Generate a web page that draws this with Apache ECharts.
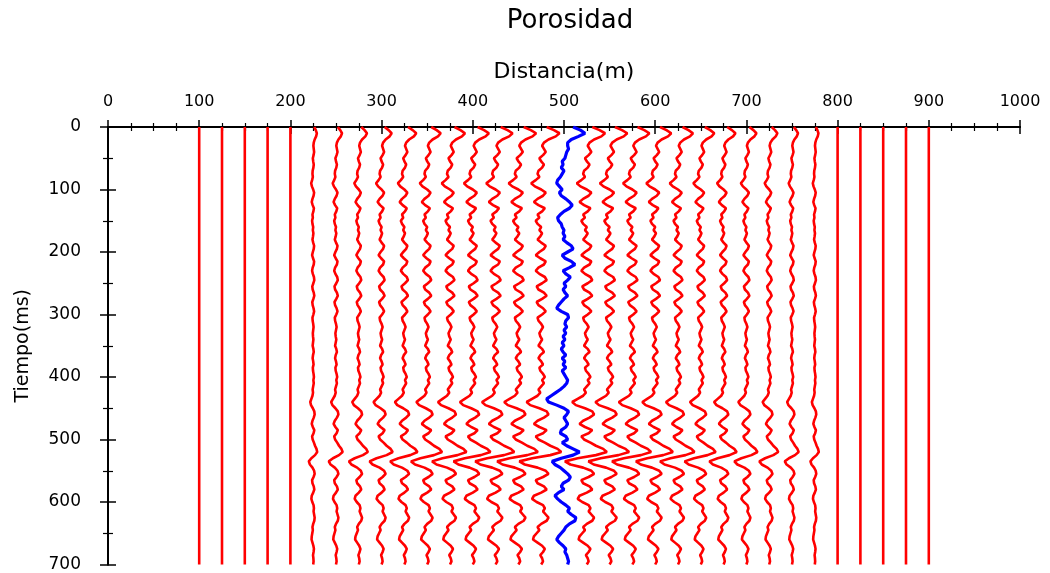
<!DOCTYPE html>
<html>
<head>
<meta charset="utf-8">
<script src="https://cdn.jsdelivr.net/npm/echarts@6/dist/echarts.min.js"></script>
<style>html,body{margin:0;padding:0;background:#fff}#c{width:1050px;height:573px}</style>
</head>
<body>
<div id="c"></div>
<script>
// Sample times (ms), every 5 ms from 0 to 700
var times = [0,5,10,15,20,25,30,35,40,45,50,55,60,65,70,75,80,85,90,95,100,105,110,115,120,125,130,135,140,145,150,155,160,165,170,175,180,185,190,195,200,205,210,215,220,225,230,235,240,245,250,255,260,265,270,275,280,285,290,295,300,305,310,315,320,325,330,335,340,345,350,355,360,365,370,375,380,385,390,395,400,405,410,415,420,425,430,435,440,445,450,455,460,465,470,475,480,485,490,495,500,505,510,515,520,525,530,535,540,545,550,555,560,565,570,575,580,585,590,595,600,605,610,615,620,625,630,635,640,645,650,655,660,665,670,675,680,685,690,695,700];
var redWiggle = [6,14,20,16,8,3,1,3,5,2,-2,0,3,1,-3,-4,-2,-6,-11,-7,0,5,2,-4,-8,-3,4,1,-4,-2,-6,-4,0,-2,1,-1,-4,0,5,3,-2,-6,-1,5,3,-3,-6,-2,4,6,1,-5,-3,3,6,1,-5,-3,2,5,1,-4,-3,0,2,0,-2,-1,1,-1,-3,1,3,-1,-3,0,2,-2,-1,2,4,1,3,0,-3,-1,-4,-10,-16,-12,-2,6,8,3,-4,-8,-2,6,2,-6,-3,4,10,18,22,10,-10,-24,-18,-4,5,8,2,-6,-4,3,6,0,-8,-10,-5,2,4,2,5,8,6,0,-4,-2,-5,-8,-9,-4,1,4,2,-1,1,2,0];
// Blue trace (at 500 m) displacement in m
var blueWiggle = [10,18,23,16,8,4,4,5,3,2,1,-2,-1,-3,0,-2,-4,-7,-8,-5,-2,-5,-3,2,6,9,6,0,-4,-7,-6,-3,-2,0,-1,1,-1,3,8,10,4,-2,1,8,12,6,-1,2,7,4,0,2,-1,1,4,0,-3,-6,-8,-3,4,5,2,1,3,0,2,-1,1,-2,0,-3,-1,2,-2,1,-1,2,-2,0,2,4,3,0,-4,-9,-14,-19,-17,-8,0,5,3,0,2,4,2,-3,-4,2,4,-2,3,10,17,10,-3,-13,-10,-4,0,4,7,5,-1,-3,0,-6,-10,-7,-3,2,6,4,8,13,12,6,2,0,-3,-6,-8,-5,-1,2,1,3,4,5,4];
// Trace positions (m) and gains of the red traces
var positions = [100,125,150,175,200,225,250,275,300,325,350,375,400,425,450,475,525,550,575,600,625,650,675,700,725,750,775,800,825,850,875,900];
var gains =     [0,0,0,0,0,0.2,0.33,0.45,0.55,0.65,0.74,0.82,0.88,0.93,0.97,1.0,1.0,0.97,0.93,0.88,0.82,0.74,0.65,0.55,0.45,0.33,0.2,0,0,0,0,0];
var bluePosition = 500;
var xTicks = [0,100,200,300,400,500,600,700,800,900,1000];
var yTicks = [0,100,200,300,400,500,600,700];

var series = [];
positions.forEach(function(p, i){
  series.push({
    type:'line', xAxisIndex:0, yAxisIndex:0, symbol:'none', silent:true,
    lineStyle:{color:'#ff0000', width:2.6},
    data: times.map(function(t,k){ return [p + gains[i]*redWiggle[k], t]; })
  });
});
series.push({
  type:'line', xAxisIndex:0, yAxisIndex:0, symbol:'none', silent:true,
  lineStyle:{color:'#0000ff', width:3.2},
  data: times.map(function(t,k){ return [bluePosition + blueWiggle[k], t]; })
});

var axisCol = '#000';
var font = 'DejaVu Sans, Liberation Sans, sans-serif';
var chart = echarts.init(document.getElementById('c'), null, {renderer:'canvas'});
chart.setOption({
  animation:false,
  backgroundColor:'#fff',
  title:{text:'Porosidad', left:565, textAlign:'center', top:3, textStyle:{fontFamily:font, fontSize:26, fontWeight:'normal', color:'#000'}},
  grid:{left:108, right:30, top:127, bottom:8},
  xAxis:[
    {type:'value', position:'top', min:0, max:1000, interval:100,
     name:'Distancia(m)', nameLocation:'middle', nameGap:44,
     nameTextStyle:{fontFamily:font, fontSize:22, color:'#000'},
     axisLine:{show:true, lineStyle:{color:axisCol, width:2}},
     axisTick:{show:true, inside:false, length:7, lineStyle:{color:axisCol, width:1.5}},
     minorTick:{show:true, splitNumber:4, length:4, lineStyle:{color:axisCol, width:1.2}},
     axisLabel:{fontFamily:font, fontSize:16, color:'#000', margin:17,
       formatter:function(v){ return xTicks.indexOf(v)>=0 ? String(v) : ''; }},
     splitLine:{show:false}},
    {type:'value', position:'bottom', min:0, max:1000, interval:100,
     axisLine:{show:true, lineStyle:{color:axisCol, width:2}},
     axisTick:{show:true, inside:false, length:7, lineStyle:{color:axisCol, width:1.5}},
     minorTick:{show:true, splitNumber:4, length:4, lineStyle:{color:axisCol, width:1.2}},
     axisLabel:{show:false}, splitLine:{show:false}}
  ],
  yAxis:[
    {type:'value', inverse:true, min:0, max:700, interval:100, position:'left',
     name:'Tiempo(ms)', nameLocation:'middle', nameGap:75, nameRotate:90,
     nameTextStyle:{fontFamily:font, fontSize:19, color:'#000'},
     axisLine:{show:true, lineStyle:{color:axisCol, width:2}},
     axisTick:{show:true, inside:false, length:8, lineStyle:{color:axisCol, width:1.5}},
     minorTick:{show:true, splitNumber:2, length:5, lineStyle:{color:axisCol, width:1.2}},
     axisLabel:{fontFamily:font, fontSize:17, color:'#000', margin:27,
       formatter:function(v){ return yTicks.indexOf(v)>=0 ? String(v) : ''; }},
     splitLine:{show:false}},
    {type:'value', inverse:true, min:0, max:700, interval:100, position:'right',
     axisLine:{show:true, lineStyle:{color:axisCol, width:2}},
     axisTick:{show:true, inside:false, length:8, lineStyle:{color:axisCol, width:1.5}},
     minorTick:{show:true, splitNumber:2, length:5, lineStyle:{color:axisCol, width:1.2}},
     axisLabel:{show:false}, splitLine:{show:false}}
  ],
  series: series
});
</script>
</body>
</html>
